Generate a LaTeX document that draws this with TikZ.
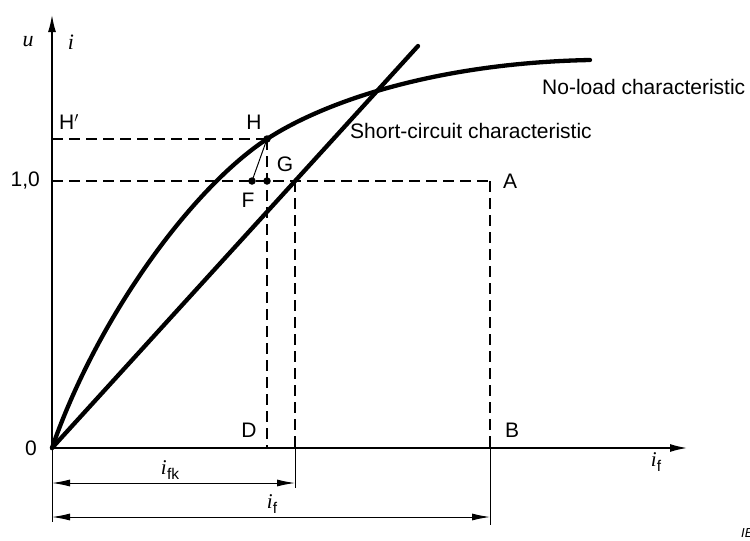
\documentclass[tikz,border=0pt]{standalone}
\usepackage{fontspec}
\setmainfont{Liberation Sans}
\newfontfamily\timesfont{Liberation Serif}
\usetikzlibrary{arrows.meta}
\newcommand{\ivar}{{\timesfont\itshape i}}
\newcommand{\isub}[1]{\ivar\kern0.3pt\raisebox{-5pt}{\fontsize{15.5}{16}\selectfont #1}}
\begin{document}
\begin{tikzpicture}[x=1pt,y=-1pt,
  lbl/.style={font=\fontsize{21}{24}\selectfont, inner sep=0pt},
  varlbl/.style={font=\fontsize{22}{24}\selectfont\timesfont\itshape, inner sep=0pt},
  curveline/.style={line width=4.3pt, line cap=round},
  axisline/.style={line width=2.2pt, -{Latex[length=18pt,width=8pt]}},
  dashline/.style={line width=1.8pt, dash pattern=on 11pt off 6pt},
  thinline/.style={line width=1pt},
  dimline/.style={line width=1pt, {Latex[length=18pt,width=7pt]}-{Latex[length=18pt,width=7pt]}},
  dotmark/.style={circle, fill=black, inner sep=0pt, minimum size=7.5pt}]
\useasboundingbox (0,0) rectangle (750,541);
% key coordinates
\coordinate (O) at (52,448);
\coordinate (Ytip) at (52,14);
\coordinate (Xtip) at (688,448);
\coordinate (Hp) at (52,139);
\coordinate (One) at (52,181);
\coordinate (Apt) at (490,181);
\coordinate (Bpt) at (490,448);
\coordinate (Dpt) at (267,448);
\coordinate (Cpt) at (295,181);
\coordinate (Cb) at (295,448);
\coordinate (SCtop) at (418,46);
\coordinate (NLend) at (590,60);
% points
\node[dotmark] (H) at (267,139) {};
\node[dotmark] (G) at (267,181) {};
\node[dotmark] (F) at (252,181) {};
% characteristics
\draw[curveline] (O) .. controls (97,318) and (192,188) .. (H.center)
  .. controls (327,100) and (440,63) .. (NLend);
\draw[curveline] (O) -- (SCtop);
% axes
\draw[axisline] (O) -- (Ytip);
\draw[axisline] (O) -- (Xtip);
% dashed construction
\draw[dashline] (Hp) -- (H.center);
\draw[dashline] (One) -- (Apt);
\draw[dashline] (H.center) -- (Dpt);
\draw[dashline] (Cpt) -- (Cb);
\draw[dashline] (Apt) -- (Bpt);
\draw[thinline] (H.center) -- (F.center);
% extension lines
\coordinate (E0) at (52,522);
\coordinate (E1) at (295,488);
\coordinate (E2) at (490,525);
\draw[thinline] (O) -- (E0);
\draw[thinline] (Cb) -- (E1);
\draw[thinline] (Bpt) -- (E2);
% dimension lines
\coordinate (D1a) at (52,483);
\coordinate (D1b) at (295,483);
\coordinate (D2a) at (52,517);
\coordinate (D2b) at (490,517);
\draw[dimline] (D1a) -- (D1b);
\draw[dimline] (D2a) -- (D2b);
% labels
\node[varlbl] (lu) at (28,42) {u};
\node[varlbl] (li) at (71,42) {i};
\node[lbl] (lHp) at (69,122) {H$'$};
\node[lbl, anchor=east] (l10) at (40,181) {1,0};
\node[lbl] (l0) at (31,448) {0};
\node[lbl] (lH) at (254,122) {H};
\node[lbl] (lG) at (285,164) {G};
\node[lbl] (lF) at (248,200) {F};
\node[lbl] (lA) at (510,181) {A};
\node[lbl] (lB) at (512,430) {B};
\node[lbl] (lD) at (249,430) {D};
\node[lbl, anchor=west] (lNL) at (542,87) {No-load characteristic};
\node[lbl, anchor=west] (lSC) at (350,131) {Short-circuit characteristic};
\node[lbl] (lif) at (656,462) {\isub{f}};
\node[lbl] (lifk) at (170,470) {\isub{fk}};
\node[lbl] (lif2) at (272,504) {\isub{f}};
\node[anchor=west, inner sep=0pt, font=\fontsize{13}{15}\selectfont\itshape] (iec) at (741,533) {IEC};
\end{tikzpicture}
\end{document}
